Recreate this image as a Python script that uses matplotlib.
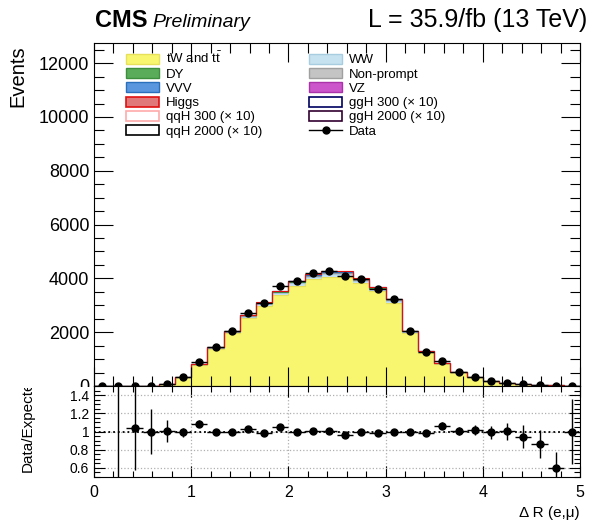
import numpy as np
import matplotlib
matplotlib.use('Agg')
import matplotlib.pyplot as plt
from matplotlib.patches import Patch, Rectangle
from matplotlib.lines import Line2D
from matplotlib.ticker import MultipleLocator, FuncFormatter

plt.rcParams['font.family'] = ['Liberation Sans', 'DejaVu Sans']
plt.rcParams['mathtext.fontset'] = 'custom'
plt.rcParams['mathtext.rm'] = 'Liberation Sans'

# binning: 30 bins in Delta R from 0 to 5
edges = np.linspace(0, 5, 31)

# stacked backgrounds (events per bin)
tw_tt = [0.1, 0.5, 4.6, 16.3, 67, 327, 797, 1377, 1964, 2525, 2980, 3374, 3734, 3973, 4069,
         4069, 3831, 3520, 3100, 1964, 1245, 826, 503, 322, 180, 108, 60, 35, 19, 7.6]
ww = [0, 0, 0.1, 0.3, 1.5, 7, 16, 28, 40, 52, 62, 70, 78, 83, 85,
      85, 80, 73, 65, 41, 26, 17, 10, 7, 4, 2, 1, 1, 0.4, 0.2]
nonprompt = [0, 0, 0.1, 0.2, 0.8, 4, 9, 15, 21, 27, 32, 36, 40, 42, 43,
             43, 41, 37, 33, 21, 13, 9, 5, 3, 2, 1, 0.6, 0.4, 0.2, 0.1]
dy = [0, 0, 0, 0.1, 0.6, 3, 7, 12, 17, 21, 25, 28, 31, 33, 34,
      34, 32, 29, 26, 16, 10, 7, 4, 3, 1.5, 1, 0.5, 0.3, 0.2, 0.1]
vz = [0, 0, 0, 0, 0.1, 0.5, 1, 2, 3, 4, 4, 5, 5, 6, 6,
      6, 5, 5, 4, 3, 2, 1, 1, 0.5, 0.3, 0.2, 0.1, 0.1, 0, 0]
vvv = [0, 0, 0, 0, 0, 0.1, 0.2, 0.3, 0.4, 0.5, 0.6, 0.7, 0.8, 0.8, 0.8,
       0.8, 0.8, 0.7, 0.6, 0.4, 0.3, 0.2, 0.1, 0.1, 0, 0, 0, 0, 0, 0]
higgs = [0, 0, 0, 0.1, 0.4, 2, 4, 7, 10, 13, 15, 17, 19, 20, 21,
         21, 20, 18, 16, 10, 6, 4, 2.5, 1.5, 1, 0.5, 0.3, 0.2, 0.1, 0]

data = [0, 1, 5, 17, 71, 340, 905, 1433, 2044, 2708, 3072, 3720, 3888, 4200, 4267,
        4085, 3988, 3610, 3227, 2036, 1277, 920, 527, 344, 187, 113, 59, 32, 12, 8]

# colours
c_top, e_top = '#f8f66e', '#e6e05a'
c_ww, e_ww = '#c6e2f0', '#a8cde0'
c_np, e_np = '#c4c4c4', '#a0a0a0'
c_dy, e_dy = '#5aac5a', '#3d8f3d'
c_vz, e_vz = '#cc55cc', '#aa33aa'
c_vvv, e_vvv = '#5a96dd', '#2a6fbb'
c_h, e_h = '#e07a7a', '#e01010'

# stack order (bottom -> top)
stack = [
    (tw_tt, c_top, e_top),
    (ww, c_ww, e_ww),
    (nonprompt, c_np, e_np),
    (dy, c_dy, e_dy),
    (vz, c_vz, e_vz),
    (vvv, c_vvv, e_vvv),
    (higgs, c_h, e_h),
]

fig = plt.figure(figsize=(5.92, 5.22), dpi=100)
ax = fig.add_axes([94 / 592, 136 / 522, 486 / 592, 343 / 522])
rax = fig.add_axes([94 / 592, 45 / 522, 486 / 592, 91 / 522])
ax.set_zorder(0)
rax.set_zorder(2)

base = np.zeros(30)
for vals, fc, ec in stack:
    vals = np.asarray(vals, dtype=float)
    ax.stairs(base + vals, edges, baseline=base, fill=True, color=fc, lw=0)
    ax.stairs(base + vals, edges, baseline=None, color=ec, lw=0.8)
    base = base + vals
expected = base

centers = 0.5 * (edges[:-1] + edges[1:])
halfw = 0.5 * (edges[1] - edges[0])
data = np.asarray(data, dtype=float)
ax.errorbar(centers, data, yerr=np.sqrt(data), xerr=halfw, fmt='o', color='black',
            ms=5, lw=1, capsize=0, zorder=5)

ax.set_xlim(0, 5)
ax.set_ylim(0, 12750)
ax.yaxis.set_major_locator(MultipleLocator(2000))
ax.yaxis.set_minor_locator(MultipleLocator(500))
ax.xaxis.set_major_locator(MultipleLocator(1))
ax.xaxis.set_minor_locator(MultipleLocator(0.2))
ax.tick_params(which='both', direction='in', top=True, right=True, labelbottom=False,
               labelsize=13, width=0.8)
ax.tick_params(which='major', length=14)
ax.tick_params(which='minor', length=7)

# white band hiding the lower half of the main panel's "0" label
fig.patches.append(Rectangle((0, 0), 94 / 592, 1 - 387 / 522, transform=fig.transFigure,
                             facecolor='white', edgecolor='none', zorder=1))

# ratio panel
mask = data > 0
ratio = np.where(mask, data / expected, np.nan)
rerr = np.where(mask, np.sqrt(data) / expected, np.nan)
rax.errorbar(centers[mask], ratio[mask], yerr=rerr[mask], xerr=halfw, fmt='o',
             color='black', ms=5, lw=1, capsize=0, zorder=5)
rax.set_xlim(0, 5)
rax.set_ylim(0.5, 1.5)
rax.yaxis.set_major_locator(MultipleLocator(0.2))
rax.yaxis.set_minor_locator(MultipleLocator(0.05))
rax.xaxis.set_major_locator(MultipleLocator(1))
rax.xaxis.set_minor_locator(MultipleLocator(0.2))
rax.yaxis.set_major_formatter(FuncFormatter(lambda v, p: '%g' % round(v, 2)))
rax.grid(True, which='major', color='#b0b0b0', ls=':', lw=0.9)
rax.axhline(1, color='black', ls=':', lw=1.3, zorder=3)
rax.tick_params(which='both', direction='in', top=True, right=True, width=0.8)
rax.tick_params(axis='y', labelsize=10)
rax.tick_params(axis='x', labelsize=11.5, pad=6)
rax.tick_params(which='major', length=8)
rax.tick_params(which='minor', length=4)

fig.text(580 / 592, 1 - 513 / 522, 'Δ R (e,μ)', ha='right', va='center', fontsize=11)
fig.text(18 / 592, 1 - 45 / 522, 'Events', rotation=90, ha='center', va='top', fontsize=14.5)
t = fig.text(28 / 592, 1 - 472 / 522, 'Data/Expected', rotation=90, ha='center',
             va='bottom', fontsize=11, zorder=3)
t.set_clip_path(Rectangle((0, 0), 1, 1 - 388 / 522, transform=fig.transFigure))

fig.text(95 / 592, 1 - 27 / 522, 'CMS', fontsize=17, fontweight='bold', va='baseline')
fig.text(152 / 592, 1 - 27 / 522, 'Preliminary', fontsize=14, style='italic', va='baseline')
fig.text(587 / 592, 1 - 27 / 522, 'L = 35.9/fb (13 TeV)', fontsize=18, ha='right',
         va='baseline')

# legend (two columns, filled column by column)
h = [
    Patch(facecolor=c_top, edgecolor=e_top),
    Patch(facecolor=c_dy, edgecolor=e_dy),
    Patch(facecolor=c_vvv, edgecolor=e_vvv),
    Patch(facecolor=c_h, edgecolor=e_h, lw=1.2),
    Patch(facecolor='white', edgecolor='#ffaaaa', lw=1.2),
    Patch(facecolor='white', edgecolor='black', lw=1.2),
    Patch(facecolor=c_ww, edgecolor=e_ww),
    Patch(facecolor=c_np, edgecolor=e_np),
    Patch(facecolor=c_vz, edgecolor=e_vz),
    Patch(facecolor='white', edgecolor='#000060', lw=1.2),
    Patch(facecolor='white', edgecolor='#300030', lw=1.2),
    Line2D([], [], color='black', marker='o', ms=5, lw=1),
]
labels = ['tW and t$\\bar{\\rm t}$', 'DY', 'VVV', 'Higgs', 'qqH 300 (× 10)', 'qqH 2000 (× 10)',
          'WW', 'Non-prompt', 'VZ', 'ggH 300 (× 10)', 'ggH 2000 (× 10)', 'Data']
ax.legend(h, labels, ncol=2, loc='upper left', bbox_to_anchor=(126 / 592, 1 - 51 / 522),
          bbox_transform=fig.transFigure, frameon=False, fontsize=9.5, borderpad=0,
          borderaxespad=0, handlelength=2.5, handleheight=0.8, handletextpad=0.5,
          labelspacing=0.12, columnspacing=3.6)

fig.savefig('out.png', dpi=100)
